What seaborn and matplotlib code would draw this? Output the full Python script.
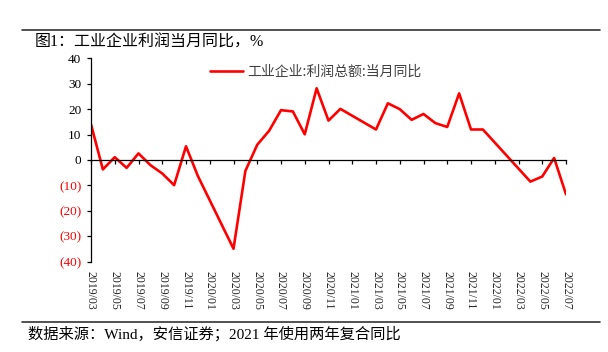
import pandas as pd
import matplotlib
matplotlib.use("Agg")
import matplotlib.pyplot as plt
import seaborn as sns

# Monthly YoY growth of industrial profits (Jan/Feb not published separately)
months = ['2019/03', '2019/04', '2019/05', '2019/06', '2019/07', '2019/08', '2019/09',
          '2019/10', '2019/11', '2019/12',
          '2020/03', '2020/04', '2020/05', '2020/06', '2020/07', '2020/08', '2020/09',
          '2020/10', '2020/11', '2020/12',
          '2021/03', '2021/04', '2021/05', '2021/06', '2021/07', '2021/08', '2021/09',
          '2021/10', '2021/11', '2021/12',
          '2022/04', '2022/05', '2022/06', '2022/07']
profit_yoy = [14.0, -3.7, 1.1, -3.1, 2.6, -2.0, -5.3, -9.9, 5.4, -6.3,
              -34.9, -4.3, 6.0, 11.5, 19.6, 19.1, 10.1, 28.2, 15.5, 20.1,
              12.0, 22.3, 20.0, 15.8, 18.1, 14.5, 13.0, 26.2, 12.0, 12.0,
              -8.5, -6.5, 0.8, -13.5]

tick_labels = ['2019/03', '2019/05', '2019/07', '2019/09', '2019/11', '2020/01',
               '2020/03', '2020/05', '2020/07', '2020/09', '2020/11', '2021/01',
               '2021/03', '2021/05', '2021/07', '2021/09', '2021/11', '2022/01',
               '2022/03', '2022/05', '2022/07']
y_ticks = [40, 30, 20, 10, 0, -10, -20, -30, -40]
series_name = '工业企业:利润总额:当月同比'


def month_index(s):
    y, m = s.split('/')
    return (int(y) - 2019) * 12 + int(m) - 3


df = pd.DataFrame({'month': months, 'value': profit_yoy})
df['x'] = df['month'].apply(month_index)
tick_pos = [month_index(t) for t in tick_labels]

sns.set_theme(style='white')
plt.rcParams['font.family'] = ['Liberation Serif', 'Noto Sans CJK SC']
plt.rcParams['axes.unicode_minus'] = False

fig = plt.figure(figsize=(6.08, 3.52), dpi=100)
ax = fig.add_axes([91 / 608, 1 - 261.7 / 352, (566 - 91) / 608, (261.7 - 58.3) / 352])

sns.lineplot(data=df, x='x', y='value', ax=ax, color='#FF0000', linewidth=1.9,
             sort=False, label=series_name)

ax.set_xlim(tick_pos[0], tick_pos[-1])
ax.set_ylim(-40, 40)
ax.set_xlabel('')
ax.set_ylabel('')

# y axis: negative numbers in red with parentheses
ax.set_yticks(y_ticks)
ax.set_yticklabels([f'({abs(v)})' if v < 0 else str(v) for v in y_ticks])
for v, lab in zip(y_ticks, ax.get_yticklabels()):
    lab.set_color('#FF0000' if v < 0 else 'black')
ax.tick_params(axis='y', direction='out', length=3, width=0.9, color='black',
               labelsize=9.5, pad=4, left=True)

# x axis line at zero with downward ticks, labels at the bottom
ax.spines['bottom'].set_position(('data', 0))
ax.spines['bottom'].set_color('black')
ax.spines['bottom'].set_linewidth(0.9)
ax.spines['left'].set_color('black')
ax.spines['left'].set_linewidth(0.9)
ax.spines['top'].set_visible(False)
ax.spines['right'].set_visible(False)
ax.set_xticks(tick_pos)
ax.tick_params(axis='x', direction='out', length=3, width=0.9, color='black',
               bottom=True, labelbottom=False)

sec = ax.secondary_xaxis('bottom')
sec.set_xticks(tick_pos)
sec.set_xticklabels(tick_labels, rotation=270, ha='center', va='top')
sec.tick_params(axis='x', length=0, labelsize=8.5, pad=7)
sec.spines['bottom'].set_visible(False)

leg = ax.legend(loc='center left', bbox_to_anchor=(210 / 608, 1 - 71.7 / 352),
                bbox_transform=fig.transFigure, frameon=False, handlelength=2.4,
                handletextpad=0.3, borderpad=0, borderaxespad=0,
                prop={'family': 'Noto Sans CJK SC', 'size': 10})
for t in leg.get_texts():
    t.set_color('#404040')

# header / footer rules and texts
fig.add_artist(plt.Line2D([22 / 608, 600 / 608], [1 - 30 / 352, 1 - 30 / 352],
                          transform=fig.transFigure, color='#333333', linewidth=1.2))
fig.add_artist(plt.Line2D([22 / 608, 600 / 608], [1 - 322 / 352, 1 - 322 / 352],
                          transform=fig.transFigure, color='#333333', linewidth=1.2))
fig.text(35 / 608, 1 - 43 / 352, '图1：工业企业利润当月同比，%', fontsize=11.5,
         va='center', ha='left', color='black')
fig.text(28 / 608, 1 - 334 / 352, '数据来源：Wind，安信证券；2021 年使用两年复合同比',
         fontsize=11, va='center', ha='left', color='black')

fig.savefig('out.png', dpi=100)
